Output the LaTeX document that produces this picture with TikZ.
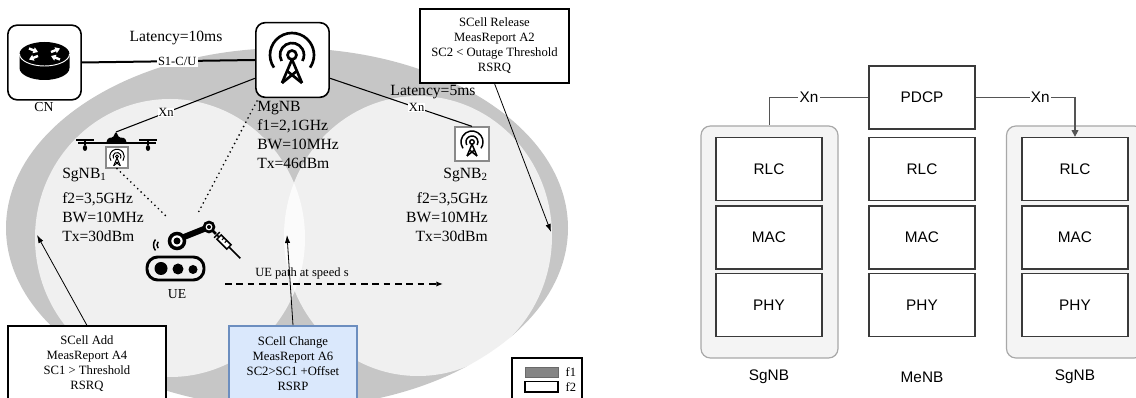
\documentclass[tikz,border=0pt]{standalone}
\usepackage{fontspec}
\setmainfont{Liberation Serif}
\setsansfont{Liberation Sans}
\usetikzlibrary{arrows.meta}

\definecolor{ringgray}{HTML}{C6C6C6}
\definecolor{keygray}{HTML}{858585}
\definecolor{cellgray}{HTML}{8A8A8A}
\definecolor{changefill}{HTML}{DAE8FC}
\definecolor{changedraw}{HTML}{6C8EBF}
\definecolor{layerdraw}{HTML}{3A3A3A}
\definecolor{linkgray}{HTML}{555555}
\definecolor{stackfill}{HTML}{F4F4F4}
\definecolor{stackdraw}{HTML}{A8A8A8}

\tikzset{
  pics/antenna/.style={code={
    \draw (0,0) circle[radius=4.5];
    \draw ([shift={(150:12)}]0,0) arc[start angle=150,end angle=390,radius=12];
    \draw ([shift={(145:22)}]0,0) arc[start angle=145,end angle=395,radius=22];
    \draw[line join=round] (-10,28) -- (0,4.5) -- (10,28);
    \draw (-10,28) -- (4.9,16) (10,28) -- (-4.9,16);
  }}
}

\begin{document}
\begin{tikzpicture}[x=0.75pt,y=-0.75pt,
  lbl/.style={font=\fontsize{11.7}{14.25}\selectfont,inner sep=0pt},
  smalltext/.style={font=\fontsize{9.4}{11}\selectfont,inner sep=1pt},
  event/.style={draw,line width=0.8pt,fill=white,align=center,font=\fontsize{9.5}{11.25}\selectfont},
  iconbox/.style={draw,line width=1.2pt,rounded corners=7pt,fill=white,minimum width=55pt,minimum height=56pt},
  cellbox/.style={draw=cellgray,line width=0.9pt,fill=white},
  evarrow/.style={-{Latex[length=6pt,width=4pt]},line width=0.6pt},
  dotline/.style={line width=1.4pt,dash pattern=on 0pt off 3.6pt,line cap=round},
  protobox/.style={draw=layerdraw,line width=1pt,fill=white,minimum width=79.5pt,minimum height=47.25pt,font=\sffamily\fontsize{11.5}{13}\selectfont},
  stackbox/.style={draw=stackdraw,line width=0.9pt,fill=stackfill,rounded corners=7pt,minimum width=102.75pt,minimum height=174pt},
  caption/.style={font=\sffamily\fontsize{11.5}{13}\selectfont},
  xnlink/.style={draw=linkgray,line width=1pt},
  xnlabel/.style={fill=white,inner sep=1pt,font=\sffamily\fontsize{11.5}{13}\selectfont}
]
  \useasboundingbox (0,0) rectangle (1136,398);
  \clip (0,0) rectangle (1136,398);

  % f1 and f2 coverage
  \fill[ringgray] (287,228) ellipse[x radius=281,y radius=180];
  \fill[white,opacity=0.75] (170,238) ellipse[x radius=135,y radius=139];
  \fill[white,opacity=0.75] (418,236) ellipse[x radius=134,y radius=140];

  \coordinate (addend) at (37,235);
  \coordinate (changeend) at (287,235);
  \coordinate (releaseend) at (551,232);
  \coordinate (uea) at (168,218);
  \coordinate (ueb) at (197,215);
  \coordinate (drone) at (116,132);
  \coordinate (pathstart) at (225,284);
  \coordinate (pathend) at (443,284);

  \node[iconbox] (cn) at (44.5,62.5) {};
  \fill (19.5,54) -- (19.5,68) arc[start angle=180,end angle=0,x radius=25,y radius=12]
    -- (69.5,54) arc[start angle=0,end angle=-180,x radius=25,y radius=12] -- cycle;
  \draw[white,line width=0.7pt] (19.5,54) arc[start angle=180,end angle=0,x radius=25,y radius=12];
  \draw[white,line width=1.8pt,-{Triangle[length=3.5pt,width=4.5pt]}] (29,48.5) -- (38,52);
  \draw[white,line width=1.8pt,-{Triangle[length=3.5pt,width=4.5pt]}] (60,59.5) -- (51,56);
  \draw[white,line width=1.8pt,-{Triangle[length=3.5pt,width=4.5pt]}] (51,52) -- (60,48.5);
  \draw[white,line width=1.8pt,-{Triangle[length=3.5pt,width=4.5pt]}] (38,56) -- (29,59.5);
  \node[smalltext,font=\fontsize{10.3}{12}\selectfont] at (44,107) {CN};

  \node[iconbox] (mgnb) at (292.5,60) {};
  \pic[line width=2pt] at (292,55) {antenna};

  \node[cellbox,minimum size=25.5pt] (sgnb2) at (472,144) {};
  \pic[scale=0.5,line width=1.1pt] at (472,142) {antenna};

  % drone carrying SgNB1
  \fill[rounded corners=1pt] (106,143.5) -- (108,138) -- (113,137.5) -- (116,131.5)
    -- (119,137.5) -- (125,138) -- (127,143.5) -- cycle;
  \draw[line width=1.2pt] (78,143) -- (156,143);
  \draw[line width=1.2pt] (76,140) -- (94,140) (139,140) -- (157,140);
  \draw[line width=1.2pt] (85,140) -- (85,145) (148,140) -- (148,145);
  \fill (85,148) ellipse[x radius=2.2,y radius=3] (148,148) ellipse[x radius=2.2,y radius=3];
  \node[cellbox,minimum width=16.5pt,minimum height=15.75pt] (sgnb1) at (117,157.5) {};
  \pic[scale=0.33,line width=0.75pt] at (117,156.5) {antenna};

  % UE robot
  \draw[line width=2.2pt,rounded corners=8pt] (147,257) rectangle (204,280);
  \fill (161,268.5) circle[radius=6.5] (178,269) circle[radius=5.5] (193,269.5) circle[radius=4.5];
  \draw[line width=4.5pt] (184,237) -- (204,229);
  \draw[line width=2pt] (209,227) -- (216,234);
  \draw[line width=2.6pt,fill=white] (177,241) circle[radius=7.5];
  \fill (177,241) circle[radius=3.5];
  \draw[line width=2pt,fill=white] (209,227) circle[radius=5];
  \fill (209,227) circle[radius=2];
  \begin{scope}[rotate around={-45:(224,242)}]
    \draw[line width=1.1pt,fill=white] (217,239) rectangle (231,245);
    \draw[line width=1.1pt] (214,238) -- (214,246) (214,242) -- (217,242) (231,242) -- (247,242);
    \draw[line width=0.8pt] (221,239) -- (221,242) (225,239) -- (225,242);
  \end{scope}
  \draw[line width=1.1pt] ([shift={(140:5)}]162,245) arc[start angle=140,end angle=220,radius=5];
  \draw[line width=1.1pt] ([shift={(140:8.5)}]162,245) arc[start angle=140,end angle=220,radius=8.5];
  \node[smalltext,font=\fontsize{10.3}{12}\selectfont] at (177,294) {UE};

  \node[lbl,anchor=north west,align=left] (mgnblabel) at (257,101) {MgNB\\f1=2,1GHz\\BW=10MHz\\Tx=46dBm};
  \node[lbl,anchor=north west,align=left] (sgnb1label) at (62,167.5) {SgNB\textsubscript{1}\\[4.5pt]f2=3,5GHz\\BW=10MHz\\Tx=30dBm};
  \node[lbl,anchor=north east,align=right] (sgnb2label) at (488,167.5) {SgNB\textsubscript{2}\\[4.5pt]f2=3,5GHz\\BW=10MHz\\Tx=30dBm};
  \node[lbl] at (176,38) {Latency=10ms};
  \node[lbl] at (433,92) {Latency=5ms};

  \draw[line width=1.5pt] (cn.east) -- node[pos=0.55,smalltext,fill=white] {S1-C/U} (mgnb.west);
  \draw[line width=0.8pt] (mgnb.206) -- node[pos=0.64,smalltext,fill=white,inner sep=0.5pt] {Xn} (drone);
  \draw[line width=0.8pt] (mgnb.334) -- node[pos=0.61,smalltext,fill=white,inner sep=0.5pt] {Xn} (sgnb2.north);
  \draw[dotline] (sgnb1.south) -- (uea);
  \draw[dotline] (mgnblabel.north west) -- (ueb);

  \draw[line width=1.2pt,dash pattern=on 5pt off 3.5pt,-{Latex[length=5pt,width=4pt]}] (pathstart) -- (pathend);
  \node[smalltext] at (302,273) {UE path at speed s};

  \node[event,minimum width=118.5pt,minimum height=57pt] (add) at (87,364) {SCell Add\\MeasReport A4\\SC1 > Threshold\\RSRQ};
  \node[event,fill=changefill,draw=changedraw,line width=1.2pt,minimum width=96pt,minimum height=57pt] (change) at (293,364) {SCell Change\\MeasReport A6\\SC2>SC1 +Offset\\RSRP};
  \node[event,minimum width=111.75pt,minimum height=55.5pt] (release) at (494.5,46) {SCell Release\\MeasReport A2\\SC2 < Outage Threshold\\RSRQ};
  \draw[evarrow] (add.north) -- (addend);
  \draw[evarrow] (change.north) -- (changeend);
  \draw[evarrow] (release.south) -- (releaseend);

  \node[draw,line width=0.8pt,fill=white,minimum width=52.5pt,minimum height=33pt] (legend) at (547,380) {};
  \filldraw[fill=keygray,draw=keygray!80!black,line width=0.5pt] (525,367) rectangle (558,377);
  \draw[line width=0.8pt] (525,381.5) rectangle (558,392);
  \node[smalltext,anchor=west] at (564,372) {f1};
  \node[smalltext,anchor=west] at (564,387) {f2};

  % protocol stacks
  \node[stackbox] (stackl) at (769.5,242) {};
  \node[stackbox] (stackr) at (1075,242) {};
  \node[protobox] (pdcp) at (922,97.5) {PDCP};
  \node[protobox] (rlcl) at (769,169) {RLC};
  \node[protobox] (macl) at (769,237.5) {MAC};
  \node[protobox] (phyl) at (769,305) {PHY};
  \node[protobox] (rlcm) at (922,169) {RLC};
  \node[protobox] (macm) at (922,237.5) {MAC};
  \node[protobox] (phym) at (922,305) {PHY};
  \node[protobox] (rlcr) at (1075,169) {RLC};
  \node[protobox] (macr) at (1075,237.5) {MAC};
  \node[protobox] (phyr) at (1075,305) {PHY};
  \node[caption] at (769,377) {SgNB};
  \node[caption] at (922,377) {MeNB};
  \node[caption] at (1075,377) {SgNB};

  \draw[xnlink] (pdcp.west) -| node[pos=0.3,xnlabel] {Xn} (stackl.north);
  \draw[xnlink,-{Triangle[length=5pt,width=5pt]}] (pdcp.east) -| node[pos=0.325,xnlabel] {Xn} (rlcr.north);
\end{tikzpicture}
\end{document}
